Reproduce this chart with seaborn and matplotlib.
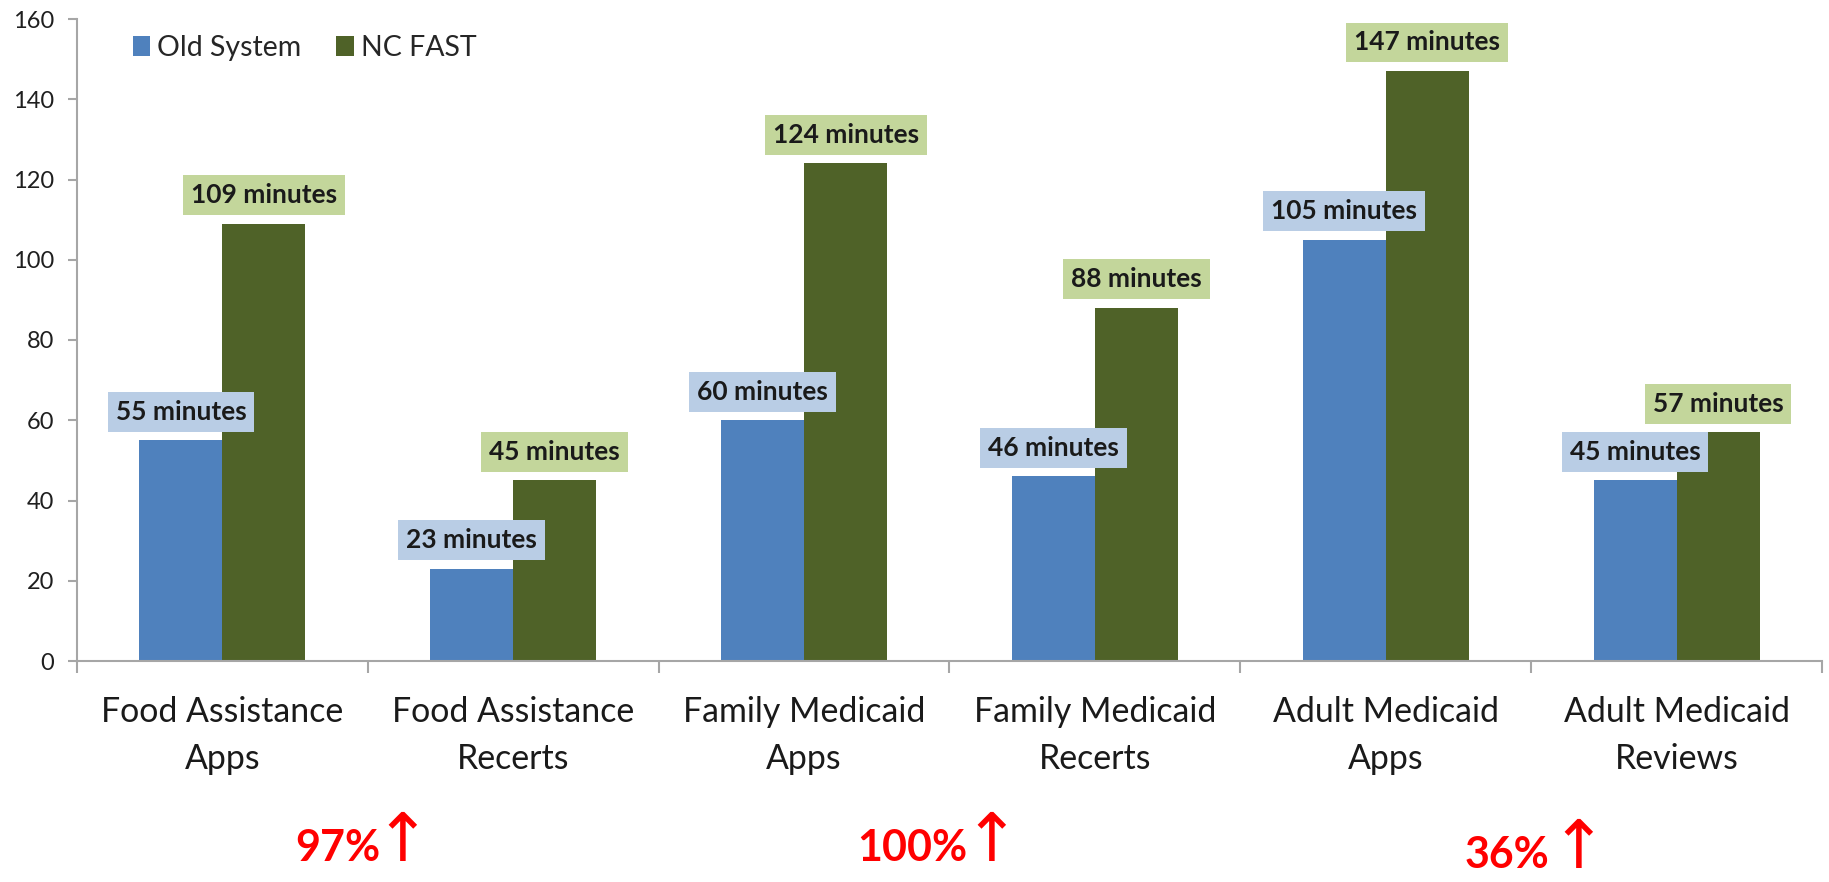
import matplotlib
matplotlib.use('Agg')
import matplotlib.pyplot as plt
import seaborn as sns
import pandas as pd
import numpy as np

categories = ["Food Assistance\nApps", "Food Assistance\nRecerts", "Family Medicaid\nApps",
              "Family Medicaid\nRecerts", "Adult Medicaid\nApps", "Adult Medicaid\nReviews"]
series = ["Old System", "NC FAST"]
old_system = [55, 23, 60, 46, 105, 45]
nc_fast = [109, 45, 124, 88, 147, 57]
y_ticks = [0, 20, 40, 60, 80, 100, 120, 140, 160]
increase_labels = ["97%", "100%", "36%"]

bar_colors = ['#4f81bd', '#4f6228']
box_colors = ['#b9cde5', '#c3d69b']

sns.set_theme(style='white')
plt.rcParams['font.family'] = ['Lato', 'DejaVu Sans']

df = pd.DataFrame({
    'category': categories * 2,
    'system': [series[0]] * len(categories) + [series[1]] * len(categories),
    'minutes': old_system + nc_fast,
})

W, H = 1829, 882
fig = plt.figure(figsize=(W / 100, H / 100), dpi=100)
ax = fig.add_axes([77 / W, 1 - 661 / H, 1745 / W, 642 / H])

sns.barplot(data=df, x='category', y='minutes', hue='system', order=categories,
            hue_order=series, palette=bar_colors, width=0.571, gap=0, saturation=1,
            errorbar=None, linewidth=0, edgecolor='none', ax=ax)

for cont, vals, bc in zip(ax.containers, [old_system, nc_fast], box_colors):
    ax.bar_label(cont, labels=[f"{v} minutes" for v in vals], padding=12,
                 fontsize=19, fontweight='bold', color='#1a1a1a',
                 bbox=dict(boxstyle='square,pad=0.3', fc=bc, ec='none'))

ax.set_xlim(-0.5, len(categories) - 0.5)
ax.set_ylim(0, 160)
ax.set_yticks(y_ticks)
ax.set_xlabel('')
ax.set_ylabel('')

gray = '#a6a6a6'
for s in ['top', 'right']:
    ax.spines[s].set_visible(False)
for s in ['left', 'bottom']:
    ax.spines[s].set_color(gray)
    ax.spines[s].set_linewidth(1.5)

ax.tick_params(axis='y', left=True, length=6.5, width=1.5, color=gray, pad=10,
               labelsize=17, labelcolor='#1f1f1f')
ax.tick_params(axis='x', which='major', bottom=False, length=0, pad=25,
               labelsize=24.4, labelcolor='#1a1a1a')
ax.set_xticks(np.arange(-0.5, len(categories), 1), minor=True)
ax.tick_params(axis='x', which='minor', bottom=True, length=8.5, width=1.5, color=gray)
for t in ax.get_xticklabels():
    t.set_linespacing(1.6)

sns.move_legend(ax, loc='center left', bbox_to_anchor=(56 / 1745, (661 - 48) / 642),
                frameon=False, ncol=2, fontsize=20.5, title=None,
                handlelength=0.6, handleheight=0.67, handletextpad=0.25,
                columnspacing=1.23, borderaxespad=0, borderpad=0)

pct_left = [295, 857, 1465]
pct_base = [861, 861, 868]
arrow_x = [402, 991, 1578]
for lab, xl, yb, xa in zip(increase_labels, pct_left, pct_base, arrow_x):
    fig.text(xl / W, 1 - yb / H, lab, fontsize=31, fontweight='bold', color='red',
             ha='left', va='baseline')
    fig.text(xa / W, 1 - yb / H, '\u2191', family=['DejaVu Sans'], fontsize=48,
             color='red', ha='center', va='baseline')

fig.savefig('out.png', dpi=100)
